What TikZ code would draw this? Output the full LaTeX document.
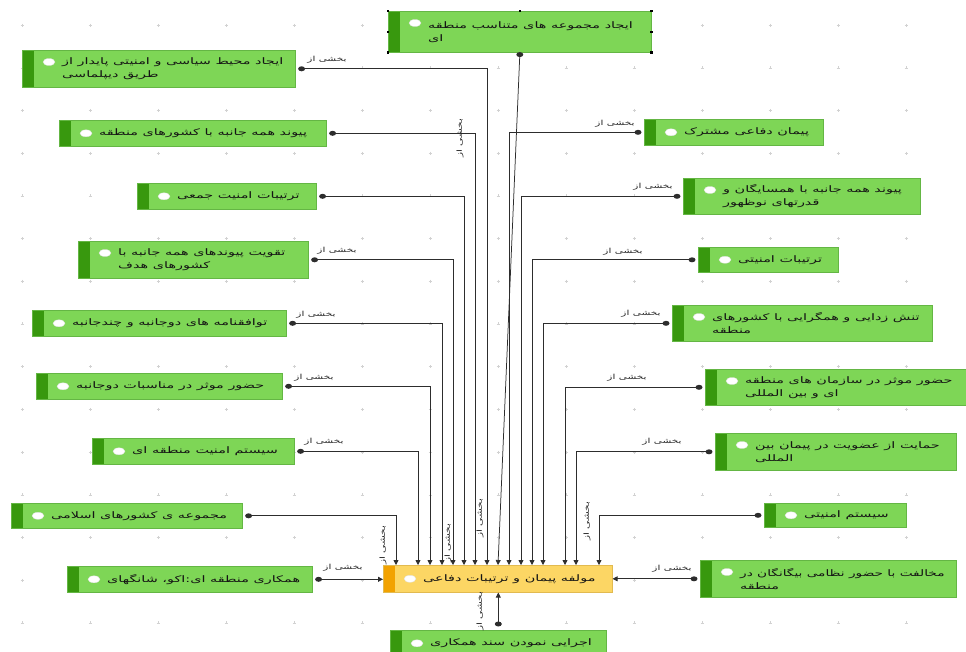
\documentclass[tikz,border=0pt]{standalone}
\usepackage{fontspec}
\newfontfamily\arabicfont[Script=Arabic]{DejaVu Sans}
\TeXXeTstate=1
\usetikzlibrary{arrows.meta,calc,shapes.geometric}
\definecolor{gfill}{RGB}{126,214,86}
\definecolor{gstrip}{RGB}{56,152,14}
\definecolor{gline}{RGB}{100,182,68}
\definecolor{yfill}{RGB}{252,214,100}
\definecolor{ystrip}{RGB}{242,162,0}
\definecolor{yline}{RGB}{226,186,80}
\definecolor{conncol}{RGB}{45,45,45}
\newcommand\sx{1.6}
\newcommand\fa[1]{\scalebox{\sx}[1]{\arabicfont #1}}
\newcommand\lab{\scalebox{1.5}[1]{\arabicfont\beginR بخشی از\endR}}
\tikzset{
  gbox/.style={draw=gline, line width=0.6pt, fill=gfill, inner sep=0pt, anchor=north west,
    path picture={\fill[gstrip] (path picture bounding box.south west) rectangle ([xshift=12pt]path picture bounding box.north west);}},
  ybox/.style={draw=yline, line width=0.6pt, fill=yfill, inner sep=0pt, anchor=north west,
    path picture={\fill[ystrip] (path picture bounding box.south west) rectangle ([xshift=12pt]path picture bounding box.north west);}},
  oval/.style={ellipse, fill=white, draw=gray!25, line width=0.3pt, minimum width=12pt, minimum height=7pt, inner sep=0pt},
  txt/.style={anchor=west, align=left, inner sep=0pt, font=\fontsize{9}{13}\selectfont, text=black!92},
  conn/.style={draw=conncol, line width=0.75pt},
  arr/.style={conn, -{Triangle[width=5pt,length=5pt]}},
  elab/.style={font=\fontsize{7}{8}\selectfont, inner sep=0pt, text=black!85},
  handle/.style={fill=black, inner sep=0pt, minimum size=2.5pt},
}
\newcommand\oneline[7]{%
  \node[#2, minimum width={#5-#3}, minimum height={#6-#4}] (#1) at (#3,#4) {};
  \node[oval] (#1o) at ($(#1.west)+(27,0)$) {};
  \node[txt] (#1t) at ($(#1.west)+(40,0)$) {\fa{#7}};
}
\newcommand\twoline[8]{%
  \node[#2, minimum width={#5-#3}, minimum height={#6-#4}] (#1) at (#3,#4) {};
  \node[oval] (#1o) at ($(#1.north west)+(27,12)$) {};
  \node[txt] (#1t) at ($(#1.west)+(40,0)$) {\fa{#7}\\\fa{#8}};
}
\begin{document}
\begin{tikzpicture}[x=1pt,y=-1pt]
\clip (0,0) rectangle (966,651);
\fill[white] (0,0) rectangle (966,651);
\useasboundingbox (0,0) rectangle (966,651);
% grid marks
\foreach \i in {0,...,13}{
  \foreach \j in {0,...,14}{
    \draw[gray!35, line width=0.4pt] ({22+68*\i-1.5},{25+42.7*\j}) -- ({22+68*\i+1.5},{25+42.7*\j})
      ({22+68*\i},{25+42.7*\j-1.5}) -- ({22+68*\i},{25+42.7*\j+1.5});
  }
}
% boxes
\twoline{TC}{gbox}{388}{11}{651}{52}{\beginR ایجاد مجموعه های متناسب منطقه\endR}{\beginR ای\endR}
\twoline{L1}{gbox}{22}{50}{295}{87}{\beginR ایجاد محیط سیاسی و امنیتی پایدار از\endR}{\beginR طریق دیپلماسی\endR}
\oneline{L2}{gbox}{59}{120}{326}{146}{\beginR پیوند همه جانبه با کشورهای منطقه\endR}
\oneline{L3}{gbox}{137}{183}{316}{209}{\beginR ترتیبات امنیت جمعی\endR}
\twoline{L4}{gbox}{78}{241}{308}{278}{\beginR تقویت پیوندهای همه جانبه با\endR}{\beginR کشورهای هدف\endR}
\oneline{L5}{gbox}{32}{310}{286}{336}{\beginR توافقنامه های دوجانبه و چندجانبه\endR}
\oneline{L6}{gbox}{36}{373}{282}{399}{\beginR حضور موثر در مناسبات دوجانبه\endR}
\oneline{L7}{gbox}{92}{438}{294}{464}{\beginR سیستم امنیت منطقه ای\endR}
\oneline{L8}{gbox}{11}{503}{242}{528}{\beginR مجموعه ی کشورهای اسلامی\endR}
\oneline{L9}{gbox}{67}{566}{312}{592}{\beginR همکاری منطقه ای:اکو، شانگهای\endR}
\oneline{C}{ybox}{383}{565}{612}{592}{\beginR مولفه پیمان و ترتیبات دفاعی\endR}
\oneline{B}{gbox}{390}{630}{606}{656}{\beginR اجرایی نمودن سند همکاری\endR}
\oneline{R1}{gbox}{644}{119}{823}{145}{\beginR پیمان دفاعی مشترک\endR}
\twoline{R2}{gbox}{683}{178}{920}{214}{\beginR پیوند همه جانبه با همسایگان و\endR}{\beginR قدرتهای نوظهور\endR}
\oneline{R3}{gbox}{698}{247}{838}{272}{\beginR ترتیبات امنیتی\endR}
\twoline{R4}{gbox}{672}{305}{932}{341}{\beginR تنش زدایی و همگرایی با کشورهای\endR}{\beginR منطقه\endR}
\twoline{R5}{gbox}{705}{369}{968}{405}{\beginR حضور موثر در سازمان های منطقه\endR}{\beginR ای و بین المللی\endR}
\twoline{R6}{gbox}{715}{433}{956}{470}{\beginR حمایت از عضویت در پیمان بین\endR}{\beginR المللی\endR}
\oneline{R7}{gbox}{764}{503}{906}{527}{\beginR سیستم امنیتی\endR}
\twoline{R8}{gbox}{700}{560}{956}{597}{\scalebox{0.95}[1]{\beginR مخالفت با حضور نظامی بیگانگان در\endR}}{\beginR منطقه\endR}
% selection handles on TC
\foreach \p [count=\k] in {TC.north west,TC.north,TC.north east,TC.west,TC.east,TC.south west,TC.south east}{
  \node[handle] (h\k) at (\p) {};
}
% left connectors
\foreach \n/\dx in {L1/104,L2/92,L3/81,L4/70,L5/59,L6/47,L7/35,L8/13}{
  \coordinate (d\n) at ($(\n.east)+(6,0)$);
  \coordinate (c\n) at ($(C.north west)+(\dx,0)$);
  \draw[arr] (d\n) -| (c\n);
  \fill[conncol] (d\n) ellipse [x radius=3.5, y radius=2.5];
}
% right connectors
\foreach \n/\dx in {R1/126,R2/138,R3/149,R4/160,R5/182,R6/193,R7/216}{
  \coordinate (d\n) at ($(\n.west)+(-6,0)$);
  \coordinate (c\n) at ($(C.north west)+(\dx,0)$);
  \draw[arr] (d\n) -| (c\n);
  \fill[conncol] (d\n) ellipse [x radius=3.5, y radius=2.5];
}
% top centre
\coordinate (dTC) at ($(TC.south)+(0,2)$);
\coordinate (cTC) at ($(C.north west)+(115,0)$);
\draw[arr] (dTC) -- (cTC);
\fill[conncol] (dTC) ellipse [x radius=3.5, y radius=2.5];
% side and bottom
\coordinate (dL9) at ($(L9.east)+(6,0)$);
\draw[arr] (dL9) -- (dL9 -| C.west);
\fill[conncol] (dL9) ellipse [x radius=3.5, y radius=2.5];
\coordinate (dR8) at ($(R8.west)+(-6,0)$);
\draw[arr] (dR8) -- (dR8 -| C.east);
\fill[conncol] (dR8) ellipse [x radius=3.5, y radius=2.5];
\coordinate (dB) at ($(B.north)+(0,-6)$);
\draw[arr] (dB) -- (dB |- C.south);
\fill[conncol] (dB) ellipse [x radius=3.5, y radius=2.5];
% edge labels
\node[elab] (eL1) at (327,60) {\lab};
\node[elab,rotate=90] (eL2) at (460,138) {\lab};
\node[elab,rotate=90] (eL3) at (448,543) {\lab};
\node[elab] (eL4) at (337,251) {\lab};
\node[elab] (eL5) at (316,315) {\lab};
\node[elab] (eL6) at (314,378) {\lab};
\node[elab] (eL7) at (324,442) {\lab};
\node[elab,rotate=90] (eL8) at (383,545) {\lab};
\node[elab] (eL9) at (343,568) {\lab};
\node[elab,rotate=90] (eTC) at (480,518) {\lab};
\node[elab] (eR1) at (615,124) {\lab};
\node[elab] (eR2) at (653,187) {\lab};
\node[elab] (eR3) at (623,252) {\lab};
\node[elab] (eR4) at (641,314) {\lab};
\node[elab] (eR5) at (627,378) {\lab};
\node[elab] (eR6) at (662,442) {\lab};
\node[elab,rotate=90] (eR7) at (587,521) {\lab};
\node[elab] (eR8) at (672,569) {\lab};
\node[elab,rotate=90] (eB) at (480,611) {\lab};
\end{tikzpicture}
\end{document}
